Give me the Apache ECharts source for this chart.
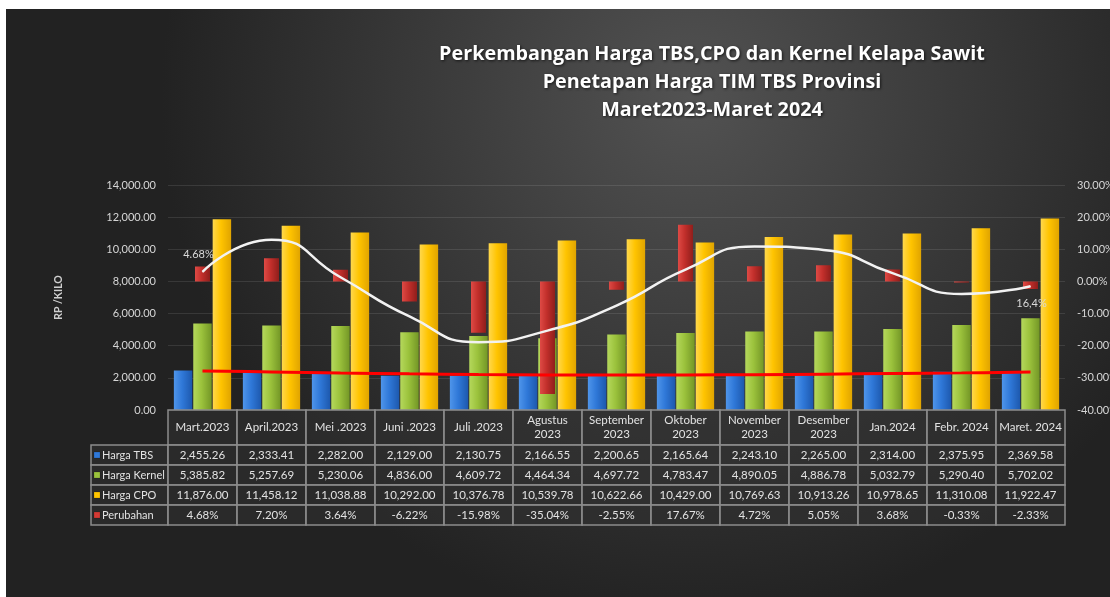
<!DOCTYPE html>
<html>
<head>
<meta charset="utf-8">
<script src="https://cdn.jsdelivr.net/npm/echarts@6/dist/echarts.min.js"></script>
<style>
html,body{margin:0;padding:0;background:#ffffff;width:1110px;height:597px;overflow:hidden;}
#chart{position:absolute;left:6px;top:9px;width:1104px;height:588px;}
</style>
</head>
<body>
<div id="chart"></div>
<script>
// ---------- DATA ----------
const titleLines = ['Perkembangan Harga TBS,CPO dan Kernel Kelapa Sawit', 'Penetapan Harga TIM TBS Provinsi', 'Maret2023-Maret 2024'];
const categories = ['Mart.2023', 'April.2023', 'Mei .2023', 'Juni .2023', 'Juli .2023', 'Agustus\n2023', 'September\n2023', 'Oktober\n2023', 'November\n2023', 'Desember\n2023', 'Jan.2024', 'Febr. 2024', 'Maret. 2024'];
const hargaTBS = [2455.26, 2333.41, 2282.00, 2129.00, 2130.75, 2166.55, 2200.65, 2165.64, 2243.10, 2265.00, 2314.00, 2375.95, 2369.58];
const hargaKernel = [5385.82, 5257.69, 5230.06, 4836.00, 4609.72, 4464.34, 4697.72, 4783.47, 4890.05, 4886.78, 5032.79, 5290.40, 5702.02];
const hargaCPO = [11876.00, 11458.12, 11038.88, 10292.00, 10376.78, 10539.78, 10622.66, 10429.00, 10769.63, 10913.26, 10978.65, 11310.08, 11922.47];
const perubahan = [4.68, 7.20, 3.64, -6.22, -15.98, -35.04, -2.55, 17.67, 4.72, 5.05, 3.68, -0.33, -2.33];
// trend lines
const trendPerubahan = [3.0, 13.0, 1.3, -10.9, -18.9, -15.3, -7.5, 3.7, 10.9, 9.8, 2.6, -3.9, -1.5];
const trendLabels = ['4.68%', '', '', '', '', '', '', '', '', '', '', '', '16,4%'];
const trendTBS = [2427, 2370, 2300, 2250, 2210, 2185, 2178, 2185, 2200, 2230, 2270, 2310, 2360];
const seriesNames = ['Harga TBS', 'Harga Kernel', 'Harga CPO', 'Perubahan'];
const yAxisName = 'RP /KILO';
const leftTicks = {min: 0, max: 14000, interval: 2000};
const rightTicks = {min: -40, max: 30, interval: 10};

// ---------- STYLE ----------
const FONT = 'Lato, "Open Sans", sans-serif';
const TXT = '#d6d6d6';
function hGrad(a, b, c) {
  return {type: 'linear', x: 0, y: 0, x2: 1, y2: 0,
    colorStops: [{offset: 0, color: a}, {offset: 0.45, color: b}, {offset: 1, color: c}]};
}
const colors = {
  tbs: hGrad('#4f95ea', '#2f78d8', '#1d58ad'),
  kernel: hGrad('#b5d85c', '#9bc23c', '#739626'),
  cpo: hGrad('#ffd84d', '#ffc400', '#e0a400'),
  red: hGrad('#de4a45', '#c22f2b', '#8f1e1b')
};
const keyColors = ['#2f78d8', '#9bc23c', '#ffc400', '#d23a34'];

const fmt2 = v => v.toLocaleString('en-US', {minimumFractionDigits: 2, maximumFractionDigits: 2});
const fmtPct = v => v.toFixed(2) + '%';

const chart = echarts.init(document.getElementById('chart'));

const option = {
  backgroundColor: {
    type: 'radial', x: 0.62, y: 0.15, r: 0.9,
    colorStops: [{offset: 0, color: '#525252'}, {offset: 0.5, color: '#3a3a3a'}, {offset: 1, color: '#222222'}]
  },
  animation: false,
  title: {
    text: titleLines.join('\n'),
    left: 701, top: 26, textAlign: 'center',
    textStyle: {
      color: '#ffffff', fontFamily: '"Open Sans", Lato, sans-serif', fontWeight: 'bold', fontSize: 19.8, lineHeight: 28,
      textShadowColor: 'rgba(0,0,0,0.7)', textShadowBlur: 3, textShadowOffsetX: 1, textShadowOffsetY: 1
    }
  },
  grid: {left: 162, right: 45, top: 176, height: 225, containLabel: false, outerBoundsMode: 'none'},
  xAxis: [
    {type: 'category', data: categories, boundaryGap: true,
      axisLine: {show: false}, axisTick: {show: false}, axisLabel: {show: false}, splitLine: {show: false}},
    {type: 'category', data: categories, boundaryGap: true, show: false}
  ],
  yAxis: [
    {type: 'value', min: leftTicks.min, max: leftTicks.max, interval: leftTicks.interval,
      name: yAxisName, nameLocation: 'middle', nameGap: 104, nameRotate: 90,
      nameTextStyle: {color: '#cfcfcf', fontFamily: FONT, fontWeight: 'bold', fontSize: 10.5},
      axisLine: {show: false}, axisTick: {show: false},
      axisLabel: {color: TXT, fontFamily: FONT, fontSize: 11, margin: 12, formatter: v => fmt2(v)},
      splitLine: {lineStyle: {color: 'rgba(255,255,255,0.10)', width: 1}}},
    {type: 'value', min: rightTicks.min, max: rightTicks.max, interval: rightTicks.interval,
      axisLine: {show: false}, axisTick: {show: false},
      axisLabel: {color: TXT, fontFamily: FONT, fontSize: 11, margin: 12, formatter: v => v.toFixed(2) + '%'},
      splitLine: {show: false}}
  ],
  series: [
    {name: seriesNames[0], type: 'bar', xAxisIndex: 0, yAxisIndex: 0, data: hargaTBS,
      barGap: '5%', barCategoryGap: '17%', itemStyle: {color: colors.tbs}},
    {name: seriesNames[1], type: 'bar', xAxisIndex: 0, yAxisIndex: 0, data: hargaKernel,
      itemStyle: {color: colors.kernel}},
    {name: seriesNames[2], type: 'bar', xAxisIndex: 0, yAxisIndex: 0, data: hargaCPO,
      itemStyle: {color: colors.cpo}},
    {name: seriesNames[3], type: 'bar', xAxisIndex: 1, yAxisIndex: 1, data: perubahan, z: 3,
      barWidth: 15, itemStyle: {color: colors.red}},
    {name: 'Trend Perubahan', type: 'line', xAxisIndex: 1, yAxisIndex: 1, z: 5, smooth: 0.55,
      symbol: 'circle', symbolSize: 1, showSymbol: true,
      itemStyle: {color: '#f2f2f2'},
      lineStyle: {color: '#f2f2f2', width: 2.5},
      data: trendPerubahan.map((v, i) => ({
        value: v,
        label: {show: trendLabels[i] !== '', formatter: trendLabels[i],
          position: i === 0 ? 'top' : 'bottom', offset: i === 0 ? [-4, -6] : [1, 6],
          color: '#d9d9d9', fontFamily: FONT, fontSize: 11}
      }))},
    {name: 'Trend TBS', type: 'line', xAxisIndex: 0, yAxisIndex: 0, z: 5, smooth: 0.4,
      symbol: 'none', lineStyle: {color: '#ff0000', width: 3}, data: trendTBS}
  ]
};
chart.setOption(option);

// ---------- DATA TABLE (positions from the chart's own axes) ----------
function buildTable() {
  const cx = categories.map(c => chart.convertToPixel({xAxisIndex: 0}, c));
  const bw = cx[1] - cx[0];
  const yTop = chart.convertToPixel({yAxisIndex: 0}, 0);
  const headerH = 35, rowH = 20;
  const labelLeft = 85;
  const tableLeft = cx[0] - bw / 2;
  const rows = [hargaTBS.map(fmt2), hargaKernel.map(fmt2), hargaCPO.map(fmt2), perubahan.map(fmtPct)];
  const els = [];
  const cellStyle = {fill: 'rgba(50,50,50,0.55)', stroke: '#8c8c8c', lineWidth: 1.5};
  const textStyle = (t, x, y, align, size) => ({type: 'text', x: x, y: y, z: 10,
    style: {text: t, fill: '#e2e2e2', font: (size || 11.5) + 'px ' + FONT, textAlign: align || 'center', textVerticalAlign: 'middle', lineHeight: 14}});
  // header
  categories.forEach((c, i) => {
    const l = cx[i] - bw / 2;
    els.push({type: 'rect', shape: {x: l, y: yTop, width: bw, height: headerH}, style: cellStyle, z: 5});
    els.push(textStyle(c, cx[i], yTop + headerH / 2));
  });
  rows.forEach((r, ri) => {
    const y = yTop + headerH + ri * rowH;
    els.push({type: 'rect', shape: {x: labelLeft, y: y, width: tableLeft - labelLeft, height: rowH}, style: cellStyle, z: 5});
    els.push({type: 'rect', shape: {x: labelLeft + 3, y: y + rowH / 2 - 3, width: 6, height: 6},
      style: {fill: keyColors[ri], stroke: 'rgba(0,0,0,0.3)', lineWidth: 0.5}, z: 11});
    els.push(textStyle(seriesNames[ri], labelLeft + 11, y + rowH / 2, 'left', 11));
    r.forEach((t, i) => {
      const l = cx[i] - bw / 2;
      els.push({type: 'rect', shape: {x: l, y: y, width: bw, height: rowH}, style: cellStyle, z: 5});
      els.push(textStyle(t, cx[i], y + rowH / 2));
    });
  });
  chart.setOption({graphic: els});
}
buildTable();
</script>
</body>
</html>
